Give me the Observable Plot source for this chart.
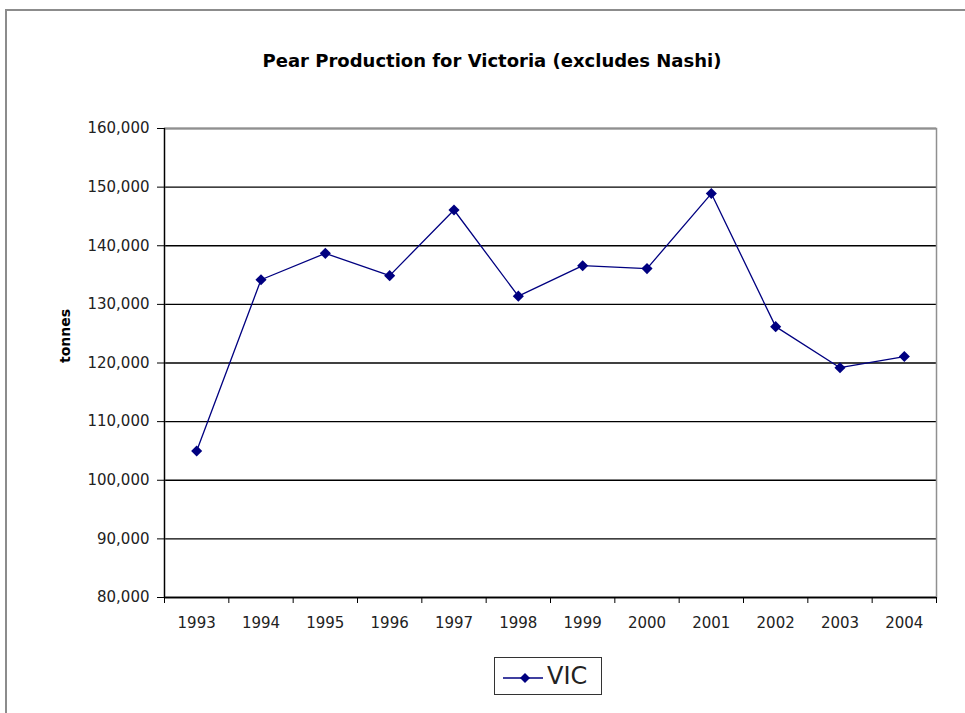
<!DOCTYPE html>
<html><head><meta charset="utf-8">
<script src="https://cdn.jsdelivr.net/npm/d3@7"></script>
<script src="https://cdn.jsdelivr.net/npm/@observablehq/plot@0.6"></script>
<style>
body{margin:0;background:#fff;}
#wrap{position:relative;width:965px;height:713px;overflow:hidden;font-family:"DejaVu Sans",sans-serif;background:#fff;}
#border{position:absolute;left:5px;top:9px;width:1000px;height:800px;border-left:2px solid #8c8c8c;border-top:2px solid #8c8c8c;}
#title{position:absolute;top:50px;left:492px;transform:translateX(-50%);white-space:nowrap;font-weight:bold;font-size:18px;line-height:22px;color:#000;}
#chart{position:absolute;left:0;top:0;}
#legend{position:absolute;left:494px;top:657px;width:106px;height:36px;border:1.5px solid #333;background:#fff;display:flex;align-items:center;}
#legend span{font-size:24px;color:#222;margin-left:4px;}
</style>
</head><body>
<div id="wrap">
<div id="border"></div>
<div id="title">Pear Production for Victoria (excludes Nashi)</div>
<div id="chart"></div>
<div id="legend"><svg width="48" height="36"><line x1="8" x2="50" y1="20" y2="20" stroke="#000080" stroke-width="1.5"/><path d="M30,15 L35,20 L30,25 L25,20 Z" fill="#000080"/></svg><span>VIC</span></div>
</div>
<script>
const years = [1993, 1994, 1995, 1996, 1997, 1998, 1999, 2000, 2001, 2002, 2003, 2004];
const vic = [105000, 134200, 138700, 134900, 146100, 131400, 136600, 136100, 148900, 126200, 119200, 121100];
const yTicks = [80000, 90000, 100000, 110000, 120000, 130000, 140000, 150000, 160000];
const seriesName = "VIC";
const yLabel = "tonnes";

const data = years.map((y, i) => ({year: y, value: vic[i], series: seriesName}));
const boundaries = [...years.map(y => y - 0.5), years[years.length - 1] + 0.5];

const chart = Plot.plot({
  width: 965,
  height: 640,
  marginTop: 128,
  marginBottom: 43,
  marginLeft: 164,
  marginRight: 29,
  style: {fontFamily: "DejaVu Sans, sans-serif", fontSize: "15px", color: "#222", background: "transparent"},
  x: {type: "linear", domain: [years[0] - 0.5, years[years.length - 1] + 0.5]},
  y: {domain: [80000, 160000]},
  marks: [
    Plot.gridY(yTicks, {stroke: "#000", strokeOpacity: 1, strokeWidth: 1.3}),
    Plot.frame({stroke: "#909090", strokeWidth: 1.5}),
    Plot.ruleX([years[0] - 0.5], {stroke: "#000", strokeWidth: 1.3}),
    Plot.ruleY([80000], {stroke: "#000", strokeWidth: 1.3}),
    Plot.axisY({ticks: yTicks, tickFormat: d3.format(","), tickSize: 7, tickPadding: 8, label: null, stroke: "#000"}),
    Plot.axisX({ticks: boundaries, tickFormat: () => "", tickSize: 6, label: null, stroke: "#000"}),
    Plot.axisX({ticks: years, tickFormat: d => String(d), tickSize: 0, tickPadding: 20, label: null}),
    Plot.text([yLabel], {frameAnchor: "left", dx: -99, rotate: -90, fontWeight: "bold", fontSize: 14, fill: "#000"}),
    Plot.line(data, {x: "year", y: "value", stroke: "#000080", strokeWidth: 1.3}),
    Plot.dot(data, {x: "year", y: "value", symbol: "diamond2", r: 5, fill: "#000080", stroke: "none"})
  ]
});
document.getElementById("chart").appendChild(chart);
</script>
</body></html>
